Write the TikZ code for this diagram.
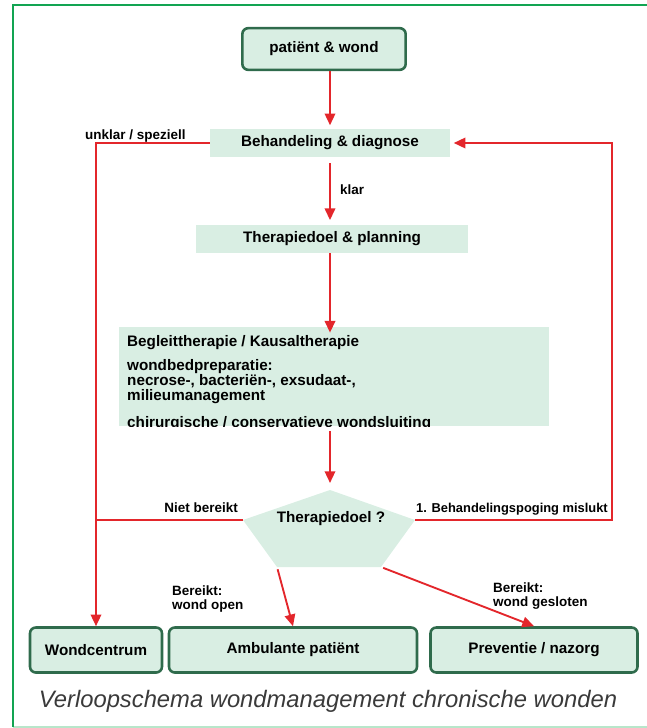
\documentclass[tikz,border=0pt]{standalone}
\usepackage{fontspec}
\setmainfont{Liberation Sans}
\usetikzlibrary{arrows.meta}

\definecolor{mint}{HTML}{D9EEE3}
\definecolor{darkgreen}{HTML}{2F6B4C}
\definecolor{flowred}{HTML}{E3262B}
\definecolor{framegreen}{HTML}{12A452}
\definecolor{framelight}{HTML}{B8E6CA}
\definecolor{captiongray}{HTML}{3A3A3A}

\begin{document}
\begin{tikzpicture}[x=0.03cm, y=-0.03cm,
	box/.style={rectangle, rounded corners=5pt, draw=darkgreen, line width=2.2pt, fill=mint, minimum height=1.25cm, font=\fontsize{13}{15}\selectfont\bfseries},
	soft/.style={rectangle, fill=mint, minimum height=0.84cm, font=\fontsize{13}{15}\selectfont\bfseries},
	redline/.style={draw=flowred, line width=1.6pt},
	flow/.style={redline, -{Triangle[length=10pt,width=9pt]}},
	lbl/.style={inner sep=0pt, font=\fontsize{11.5}{12}\selectfont\bfseries}]
	\useasboundingbox (0,0) rectangle (647,728);
	
	% frame
	\draw[framelight, line width=2pt] (13,727) -- (647,727);
	\draw[framegreen, line width=2.4pt] (13,727) -- (13,5) -- (647,5);
	
	\node[box, minimum width=4.9cm] (pw) at (324,49) {patiënt \& wond};
	\node[soft, minimum width=7.2cm] (bd) at (330,143) {Behandeling \& diagnose};
	\node[soft, minimum width=8.16cm] (tp) at (332,239) {Therapiedoel \& planning};
	\node[soft, minimum width=12.9cm, minimum height=2.97cm] (care) at (334,376.5) {};
	\begin{scope}
		\clip (care.south west) rectangle (care.north east);
		\node[anchor=north west, align=left, inner sep=0pt, font=\fontsize{13}{12.8}\selectfont\bfseries] (caretext) at (127,335)
			{Begleittherapie / Kausaltherapie\\[7.6pt]
			wondbedpreparatie:\\
			necrose-, bacteriën-, exsudaat-,\\
			milieumanagement\\[10.2pt]
			chirurgische / conservatieve wondsluiting};
	\end{scope}
	
	% decision pentagon
	\coordinate (pt) at (330,490);
	\coordinate (pl) at (243,520);
	\coordinate (pr) at (415,520);
	\coordinate (pbr) at (381,567);
	\coordinate (pbl) at (277,567);
	\fill[mint] (pt) -- (pr) -- (pbr) -- (pbl) -- (pl) -- cycle;
	\node[font=\fontsize{13}{15}\selectfont\bfseries] (goal) at (331,519) {Therapiedoel ?};
	
	\node[box, minimum width=3.96cm, minimum height=1.35cm] (wc) at (96,650) {Wondcentrum};
	\node[box, minimum width=7.44cm, minimum height=1.35cm] (ap) at (293,650) {Ambulante patiënt};
	\node[box, minimum width=6.21cm, minimum height=1.35cm] (pn) at (534,650) {Preventie / nazorg};
	
	\coordinate (back) at (612,143);
	
	% connectors
	\draw[flow, shorten >=3pt] (pw.south -| bd.north) -- (bd.north);
	\draw[flow] (bd.west) -| (wc.north);
	\draw[flow, shorten <=5pt, shorten >=4pt] (bd.south) -- (bd.south |- tp.north);
	\draw[flow, shorten >=-5pt] (tp.south -| bd.south) -- (bd.south |- care.north);
	\draw[flow, shorten <=4pt, shorten >=6pt] (care.south -| pt) -- (pt);
	\draw[redline] (pl) -- (pl -| wc.north);
	\draw[flow, shorten >=3pt] (pr) -| (back) -- (bd.east);
	\draw[flow, shorten <=2pt] (pbl) -- (ap.north);
	\draw[flow, shorten <=2pt] (pbr) -- (pn.north);
	
	% labels
	\node[lbl, anchor=base west] (unclear) at (85,139) {unklar / speziell};
	\node[lbl, anchor=base west] (clear) at (340,194) {klar};
	\node[lbl, anchor=base east] (notmet) at (238,512) {Niet bereikt};
	\node[lbl, anchor=base east, font=\fontsize{11}{12}\selectfont\bfseries] (failed) at (608,512) {1. Behandelingspoging mislukt};
	\node[lbl, anchor=north west, align=left] (open) at (172,585) {Bereikt:\\wond open};
	\node[lbl, anchor=north west, align=left] (closed) at (493,582) {Bereikt:\\wond gesloten};
	
	\node[anchor=base, text=captiongray, font=\fontsize{20.3}{23}\selectfont\itshape] (caption) at (328,707) {Verloopschema wondmanagement chronische wonden};
\end{tikzpicture}
\end{document}
